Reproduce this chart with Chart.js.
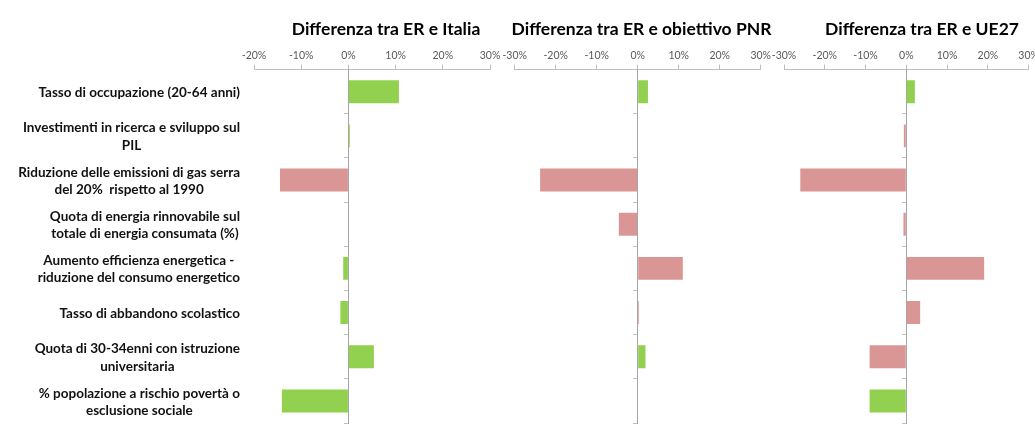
<!DOCTYPE html>
<html>
<head>
<meta charset="utf-8">
<script src="https://cdn.jsdelivr.net/npm/chart.js@4.4.1/dist/chart.umd.min.js"></script>
<style>
  html, body { margin: 0; padding: 0; background: #fff; overflow: hidden; width: 1035px; height: 427px; }
  canvas { position: absolute; top: 0; }
</style>
</head>
<body>
<canvas id="c1" width="772" height="427" style="left:0px"></canvas>
<canvas id="c2" width="323" height="427" style="left:480px"></canvas>
<canvas id="c3" width="344" height="427" style="left:750px"></canvas>
<script>
// ---- data ----
const categories = [
  ["Tasso di occupazione (20-64 anni)"],
  ["Investimenti in ricerca e sviluppo sul", "PIL"],
  ["Riduzione delle emissioni di gas serra", "del 20%  rispetto al 1990"],
  ["Quota di energia rinnovabile sul", "totale di energia consumata (%)"],
  ["Aumento efficienza energetica -", "riduzione del consumo energetico"],
  ["Tasso di abbandono scolastico"],
  ["Quota di 30-34enni con istruzione", "universitaria"],
  ["% popolazione a rischio povertà o", "esclusione sociale"]
];
const titles = ["Differenza tra ER e Italia", "Differenza tra ER e obiettivo PNR", "Differenza tra ER e UE27"];
const italiaValues = [10.7, 0.3, -14.5, 0, -1.1, -1.7, 5.4, -14.1];
const italiaStatus = ["good", "good", "bad", "good", "good", "good", "good", "good"];
const pnrValues = [2.5, 0, -23.8, -4.6, 11.0, 0.3, 1.9, 0];
const pnrStatus = ["good", "good", "bad", "bad", "bad", "bad", "good", "good"];
const ue27Values = [2.1, -0.6, -26.0, -0.7, 19.1, 3.4, -9.0, -9.0];
const ue27Status = ["good", "bad", "bad", "bad", "bad", "bad", "bad", "good"];
const italiaRange = [-20, 30];
const pnrRange = [-30, 30];
const ue27Range = [-30, 30];
const tickStep = 10;

// ---- styles ----
const statusColor = { good: "#92D050", bad: "#D99694" };
const axisGray = "#BFBFBF";
const zeroGray = "#A6A6A6";
const labelFont = "Lato, 'Open Sans', sans-serif";

const decorPlugin = {
  id: "decor",
  afterDraw(chart, args, opts) {
    const ctx = chart.ctx;
    ctx.save();
    // panel title, centred on the canvas
    ctx.font = "bold 17.5px " + labelFont;
    ctx.fillStyle = "#000";
    ctx.textAlign = "center";
    ctx.textBaseline = "middle";
    ctx.fillText(opts.title, chart.width / 2, 29);
    if (opts.showLabels) {
      const yScale = chart.scales.y;
      const rightEdge = chart.chartArea.left - opts.gap;
      ctx.font = "bold 13.5px " + labelFont;
      ctx.fillStyle = "#111";
      categories.forEach((lines, i) => {
        const w = Math.max(...lines.map(l => ctx.measureText(l).width));
        const cx = rightEdge - w / 2;
        const cy = yScale.getPixelForValue(i) + 1;
        lines.forEach((l, j) => {
          ctx.fillText(l, cx, cy + (j - (lines.length - 1) / 2) * 17.5);
        });
      });
    }
    ctx.restore();
  }
};

function makeChart(id, title, values, status, range, pad, showLabels) {
  new Chart(document.getElementById(id), {
    type: "bar",
    data: {
      labels: categories.map(c => c.join(" ")),
      datasets: [{
        data: values,
        backgroundColor: status.map(s => statusColor[s]),
        borderWidth: 0,
        barPercentage: 1,
        categoryPercentage: 0.52
      }]
    },
    options: {
      indexAxis: "y",
      responsive: false,
      animation: false,
      devicePixelRatio: 1,
      layout: { padding: { left: pad[0], right: pad[1], top: 46, bottom: 4 } },
      plugins: {
        legend: { display: false },
        tooltip: { enabled: false },
        title: { display: false },
        decor: { title: title, showLabels: showLabels, gap: 14 }
      },
      scales: {
        x: {
          position: "top",
          min: range[0],
          max: range[1],
          ticks: {
            stepSize: tickStep,
            callback: v => v + "%",
            color: "#595959",
            font: { family: labelFont, size: 10.5 },
            padding: 3,
            maxRotation: 0,
            autoSkip: false
          },
          grid: { drawOnChartArea: false, tickLength: 5, color: axisGray },
          border: { color: axisGray, width: 1 }
        },
        y: {
          position: { x: 0 },
          offset: true,
          ticks: { display: false },
          grid: { drawOnChartArea: false, offset: true, tickLength: 4, color: axisGray },
          border: { color: zeroGray, width: 1 }
        }
      }
    },
    plugins: [decorPlugin]
  });
}

makeChart("c1", titles[0], italiaValues, italiaStatus, italiaRange, [254, 282], true);
makeChart("c2", titles[1], pnrValues, pnrStatus, pnrRange, [34.7, 42.3], false);
makeChart("c3", titles[2], ue27Values, ue27Status, ue27Range, [34, 65.4], false);
</script>
</body>
</html>
